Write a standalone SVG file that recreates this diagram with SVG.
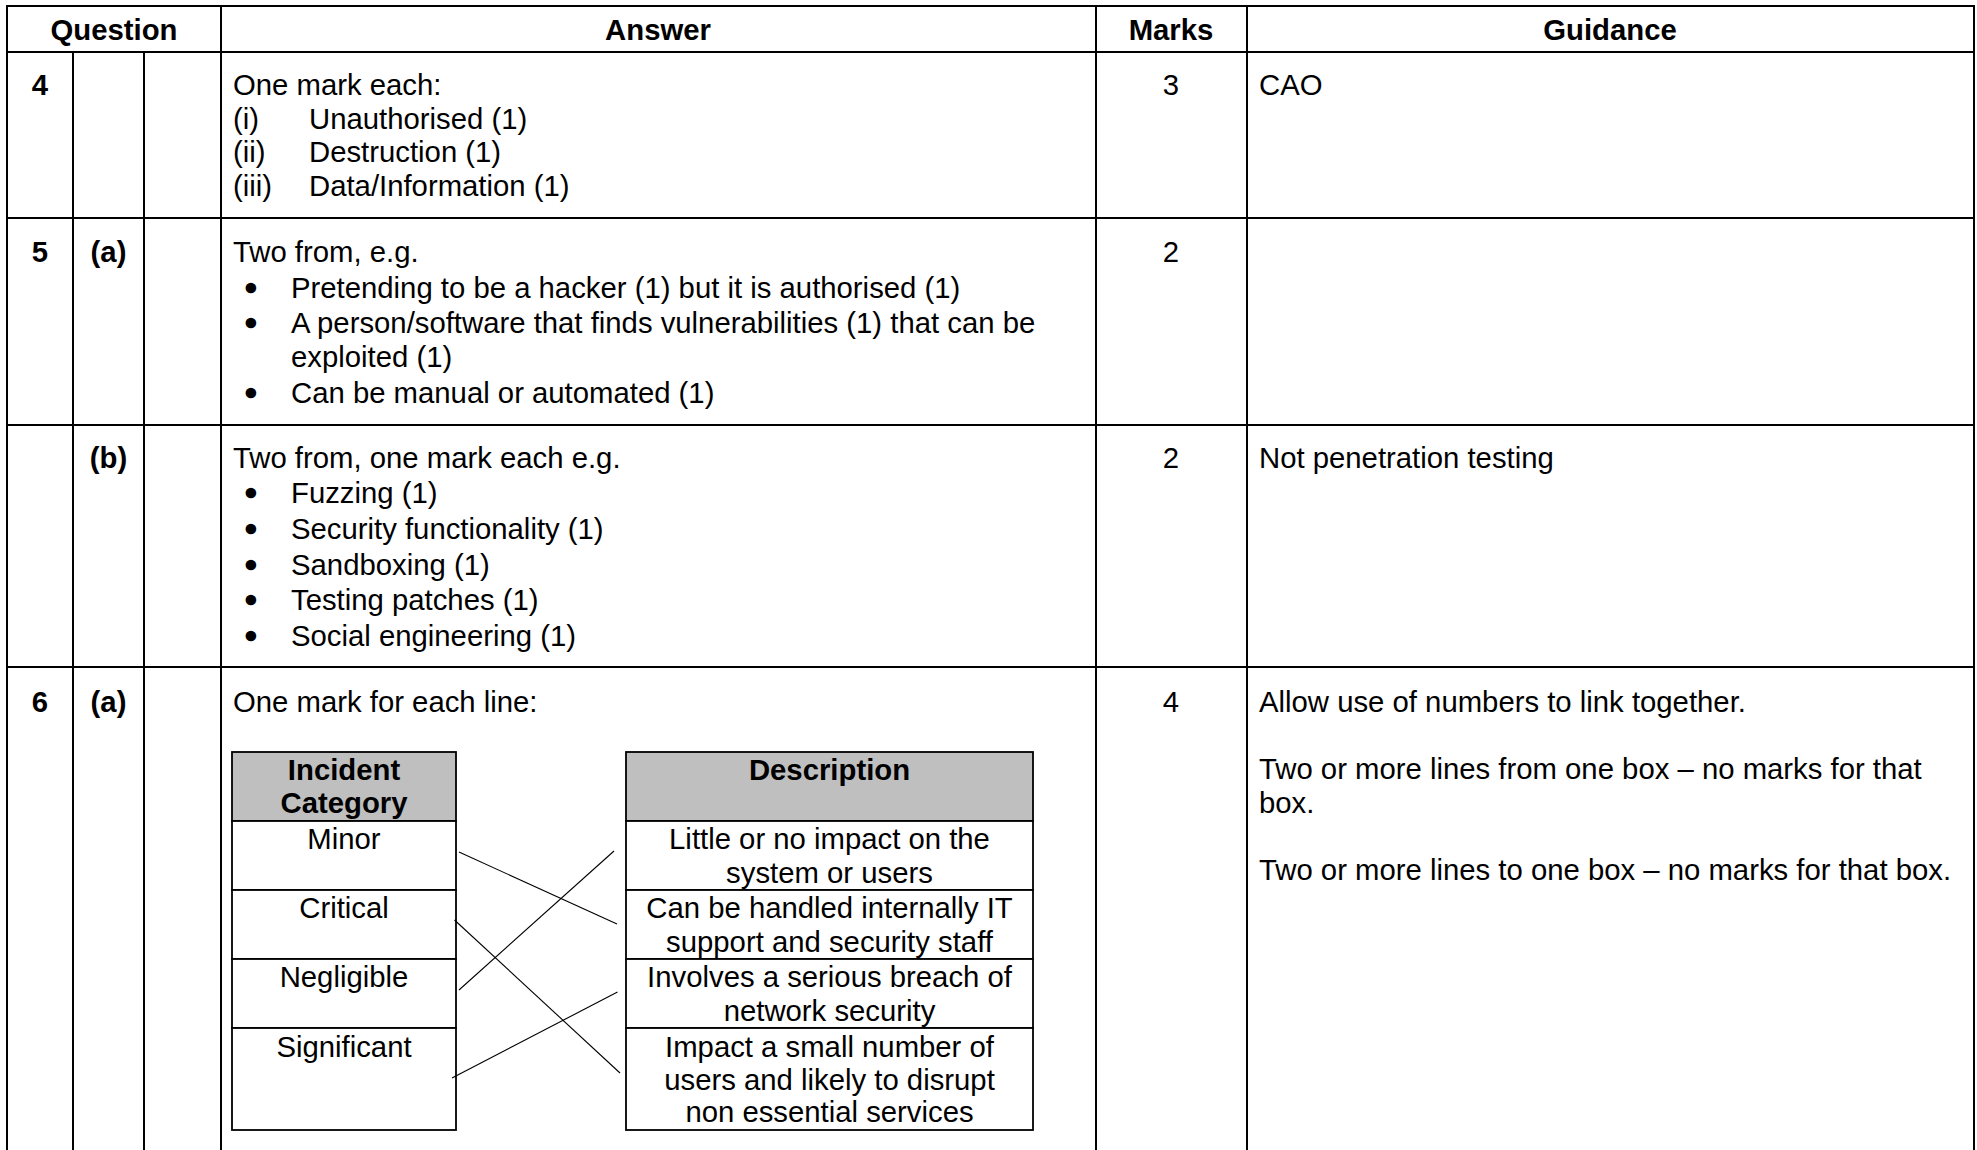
<svg xmlns="http://www.w3.org/2000/svg" width="1977" height="1150" viewBox="0 0 1977 1150">
<style>
text{font-family:"Liberation Sans",Arial,sans-serif;font-size:29.3px;fill:#000}
.b{font-weight:bold}
.c{text-anchor:middle}
.bu{text-anchor:middle;stroke:#000;stroke-width:2.6;stroke-linejoin:round}
.grid line{stroke:#000;stroke-width:2}
.box{fill:#fff;stroke:#000;stroke-width:1.8}
.hd{fill:#BFBFBF;stroke:#000;stroke-width:1.8}
.con line{stroke:#000;stroke-width:1.1}
</style>
<rect width="1977" height="1150" fill="#fff"/>
<g id="table-grid" class="grid">
<line x1="6" y1="6" x2="1975" y2="6"/>
<line x1="6" y1="52" x2="1975" y2="52"/>
<line x1="6" y1="218" x2="1975" y2="218"/>
<line x1="6" y1="425" x2="1975" y2="425"/>
<line x1="6" y1="667" x2="1975" y2="667"/>
<line x1="7" y1="5" x2="7" y2="1150"/>
<line x1="73" y1="52" x2="73" y2="1150"/>
<line x1="144" y1="52" x2="144" y2="1150"/>
<line x1="221" y1="5" x2="221" y2="1150"/>
<line x1="1096" y1="5" x2="1096" y2="1150"/>
<line x1="1247" y1="5" x2="1247" y2="1150"/>
<line x1="1974" y1="5" x2="1974" y2="1150"/>
</g>
<g id="header">
<text class="b c" x="114" y="40">Question</text>
<text class="b c" x="658" y="40">Answer</text>
<text class="b c" x="1171" y="40">Marks</text>
<text class="b c" x="1610" y="40">Guidance</text>
</g>
<g id="row-4">
<text class="b c" x="40" y="95">4</text>
<text x="233" y="95">One mark each:</text>
<text x="233" y="128.5">(i)</text><text x="309" y="128.5">Unauthorised (1)</text>
<text x="233" y="162">(ii)</text><text x="309" y="162">Destruction (1)</text>
<text x="233" y="195.5">(iii)</text><text x="309" y="195.5">Data/Information (1)</text>
<text class="c" x="1171" y="95">3</text>
<text x="1259" y="95">CAO</text>
</g>
<g id="row-5a">
<text class="b c" x="40" y="262">5</text>
<text class="b c" x="108.5" y="262">(a)</text>
<text x="233" y="262">Two from, e.g.</text>
<text class="bu" x="251" y="297.5">•</text><text x="291" y="297.5">Pretending to be a hacker (1) but it is authorised (1)</text>
<text class="bu" x="251" y="332.5">•</text><text x="291" y="332.5">A person/software that finds vulnerabilities (1) that can be</text>
<text x="291" y="367">exploited (1)</text>
<text class="bu" x="251" y="403">•</text><text x="291" y="403">Can be manual or automated (1)</text>
<text class="c" x="1171" y="262">2</text>
</g>
<g id="row-5b">
<text class="b c" x="108.5" y="467.5">(b)</text>
<text x="233" y="467.5">Two from, one mark each e.g.</text>
<text class="bu" x="251" y="503">•</text><text x="291" y="503">Fuzzing (1)</text>
<text class="bu" x="251" y="538.5">•</text><text x="291" y="538.5">Security functionality (1)</text>
<text class="bu" x="251" y="574.5">•</text><text x="291" y="574.5">Sandboxing (1)</text>
<text class="bu" x="251" y="610">•</text><text x="291" y="610">Testing patches (1)</text>
<text class="bu" x="251" y="645.5">•</text><text x="291" y="645.5">Social engineering (1)</text>
<text class="c" x="1171" y="467.5">2</text>
<text x="1259" y="467.5">Not penetration testing</text>
</g>
<g id="row-6a">
<text class="b c" x="40" y="712">6</text>
<text class="b c" x="108.5" y="712">(a)</text>
<text x="233" y="712">One mark for each line:</text>
<text class="c" x="1171" y="712">4</text>
<text x="1259" y="712">Allow use of numbers to link together.</text>
<text x="1259" y="779">Two or more lines from one box – no marks for that</text>
<text x="1259" y="813">box.</text>
<text x="1259" y="880">Two or more lines to one box – no marks for that box.</text>
</g>
<g id="category-box">
<rect class="hd" x="232" y="752" width="224" height="69"/>
<rect class="box" x="232" y="821" width="224" height="69"/>
<rect class="box" x="232" y="890" width="224" height="69"/>
<rect class="box" x="232" y="959" width="224" height="69"/>
<rect class="box" x="232" y="1028" width="224" height="102"/>
<text class="b c" x="344" y="780">Incident</text>
<text class="b c" x="344" y="813">Category</text>
<text class="c" x="344" y="848.5">Minor</text>
<text class="c" x="344" y="918">Critical</text>
<text class="c" x="344" y="987">Negligible</text>
<text class="c" x="344" y="1056.5">Significant</text>
</g>
<g id="description-box">
<rect class="hd" x="626" y="752" width="407" height="69"/>
<rect class="box" x="626" y="821" width="407" height="69"/>
<rect class="box" x="626" y="890" width="407" height="69"/>
<rect class="box" x="626" y="959" width="407" height="69"/>
<rect class="box" x="626" y="1028" width="407" height="102"/>
<text class="b c" x="829.5" y="780">Description</text>
<text class="c" x="829.5" y="848.5">Little or no impact on the</text>
<text class="c" x="829.5" y="882.5">system or users</text>
<text class="c" x="829.5" y="918">Can be handled internally IT</text>
<text class="c" x="829.5" y="952">support and security staff</text>
<text class="c" x="829.5" y="987">Involves a serious breach of</text>
<text class="c" x="829.5" y="1021">network security</text>
<text class="c" x="829.5" y="1056.5">Impact a small number of</text>
<text class="c" x="829.5" y="1089.5">users and likely to disrupt</text>
<text class="c" x="829.5" y="1122">non essential services</text>
</g>
<g id="connectors" class="con">
<line x1="459" y1="852" x2="617" y2="924"/>
<line x1="459" y1="990" x2="614" y2="851"/>
<line x1="454.5" y1="920" x2="620" y2="1073"/>
<line x1="452" y1="1078" x2="617.5" y2="992"/>
</g>
</svg>
